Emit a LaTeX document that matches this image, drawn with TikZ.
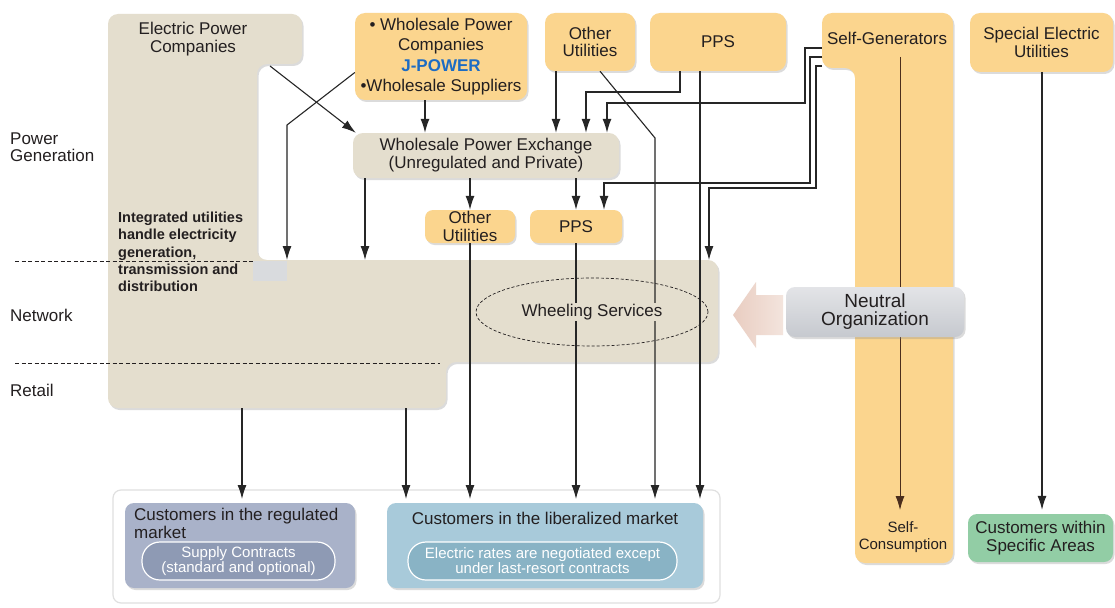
\documentclass[tikz,border=0pt]{standalone}
\usepackage{fontspec}
\setmainfont{Liberation Sans}
\usetikzlibrary{arrows.meta,shapes.geometric,shadows}
\definecolor{beige}{HTML}{E4DECE}
\definecolor{orng}{HTML}{FBD58E}
\definecolor{jblue}{HTML}{1C6CC4}
\definecolor{ink}{HTML}{231F20}
\definecolor{lnk}{HTML}{262626}
\definecolor{neutA}{HTML}{E3E4E7}
\definecolor{neutB}{HTML}{C6C9CF}
\definecolor{pinkA}{HTML}{E9CDC1}
\definecolor{pinkB}{HTML}{F3E4DD}
\definecolor{regc}{HTML}{A9B2C9}
\definecolor{regp}{HTML}{8E9AB4}
\definecolor{libc}{HTML}{A8CADA}
\definecolor{libp}{HTML}{89B3C5}
\definecolor{grn}{HTML}{92CDA5}
\definecolor{brn}{HTML}{4B2E1C}
\definecolor{patch}{HTML}{D9DBDE}
\begin{document}
\begin{tikzpicture}[x=1pt,y=-1pt,
  shd/.style={drop shadow={shadow xshift=1.5pt,shadow yshift=-2pt,opacity=0.28}},
  txt/.style={text=ink,align=center,font=\fontsize{17}{17.5}\selectfont,inner sep=0pt},
  obox/.style={txt,fill=orng,rounded corners=10pt,shd},
  bbox/.style={txt,fill=beige,rounded corners=10pt,shd},
  lbl/.style={txt,align=left,anchor=west},
  pill/.style={draw=white,line width=1.2pt,rounded corners=18pt,text=white,align=center,font=\fontsize{15}{15}\selectfont,inner sep=0pt},
  arr/.style={draw=lnk,line width=1.1pt,-{Latex[length=14pt,width=9pt]}},
  dline/.style={draw=ink,line width=0.7pt,dash pattern=on 4pt off 2.5pt}
]
\useasboundingbox (0,0) rectangle (1115,607);
\fill[white] (0,0) rectangle (1115,607);

% helper coordinates
\foreach \v in {242,287,365,406,425,470,556,576,586,600,604,607,655,680,700,709,900,1042}
  \coordinate (v\v) at (\v,0);
\coordinate (epcA) at (270,66);
\coordinate (netTop) at (0,260);
\coordinate (retBot) at (0,408);
\coordinate (custIn) at (0,499);
\coordinate (sgA) at (822,48);
\coordinate (sgB) at (822,57);
\coordinate (sgC) at (822,66);
\coordinate (sgIn) at (900,57);
\coordinate (sgOut) at (900,510);

% Electric power companies / integrated utility shape
\fill[beige,rounded corners=10pt,shd] (108,14) -- (302,14) -- (302,64) -- (257,64) -- (257,260)
  -- (718,260) -- (718,362) -- (446,362) -- (446,408) -- (108,408) -- cycle;
\fill[patch] (253,261) rectangle (287,281);

% Self-generators column
\fill[orng,rounded corners=10pt,shd] (822,13) -- (953,13) -- (953,563) -- (855,563) -- (855,68) -- (822,68) -- cycle;
\draw[arr,draw=brn,line width=0.9pt] (sgIn) -- (sgOut);

% dashed layer separators
\draw[dline] (15,261) -- (253,261);
\draw[dline] (15,363) -- (440,363);

% layer labels
\node[lbl] (lpg) at (10,147) {Power\\Generation};
\node[lbl] (lnet) at (10,315) {Network};
\node[lbl] (lret) at (10,390) {Retail};

% texts inside shapes
\node[txt] (epc) at (193,39) {Electric Power\\Companies};
\node[txt,anchor=west,align=left,font=\bfseries\fontsize{14.5}{17.3}\selectfont] (integ) at (118,252)
  {Integrated utilities\\handle electricity\\generation,\\transmission and\\distribution};
\node[txt] (sg) at (887,38) {Self-Generators};
\node[txt,font=\fontsize{15}{16.5}\selectfont] (scons) at (903,537) {Self-\\Consumption};

% boxes
\node[obox,minimum width=172pt,minimum height=87pt,font=\fontsize{17}{20.5}\selectfont] (wpc) at (441,56.5)
  {• Wholesale Power\\Companies\\{\bfseries\color{jblue}J-POWER}\\•Wholesale Suppliers};
\node[obox,minimum width=90pt,minimum height=58pt] (outop) at (590,42) {Other\\Utilities};
\node[obox,minimum width=136pt,minimum height=58pt] (ppstop) at (718,42) {PPS};
\node[obox,minimum width=143pt,minimum height=59pt] (seu) at (1041.5,42.5) {Special Electric\\Utilities};
\node[bbox,minimum width=266pt,minimum height=45pt,font=\fontsize{17}{18}\selectfont] (exch) at (486,155.5)
  {Wholesale Power Exchange\\(Unregulated and Private)};
\node[obox,rounded corners=8pt,minimum width=90pt,minimum height=33pt,font=\fontsize{17}{18}\selectfont] (oumid) at (470,226.5) {Other\\Utilities};
\node[obox,rounded corners=8pt,minimum width=92pt,minimum height=33pt] (ppsmid) at (576,226.5) {PPS};

% wheeling services
\node[draw=ink,line width=0.7pt,dash pattern=on 3pt off 2pt,ellipse,minimum width=232pt,minimum height=68pt] (wheel) at (592,312) {};

% bottom customers frame
\node[draw=black!12,line width=1.2pt,fill=white,rounded corners=8pt,minimum width=607pt,minimum height=113pt] (frame) at (416.5,546.5) {};
\node[fill=regc,rounded corners=9pt,minimum width=230pt,minimum height=85pt,shd] (reg) at (240,545.5) {};
\node[lbl] (regt) at (134,523.5) {Customers in the regulated\\market};
\node[pill,fill=regp,minimum width=193pt,minimum height=38pt] (regpill) at (238.5,561) {Supply Contracts\\(standard and optional)};
\node[fill=libc,rounded corners=9pt,minimum width=316pt,minimum height=85pt,shd] (lib) at (545,545.5) {};
\node[txt] (libt) at (545,518) {Customers in the liberalized market};
\node[pill,fill=libp,minimum width=269pt,minimum height=38pt] (libpill) at (542.5,561) {Electric rates are negotiated except\\under last-resort contracts};
\node[txt,fill=grn,rounded corners=9pt,minimum width=145pt,minimum height=48pt,font=\fontsize{17}{18}\selectfont,shd] (green) at (1040.5,538) {Customers within\\Specific Areas};

% connectors
\draw[arr] (epcA) -- ([xshift=3pt]exch.north west);
\draw[arr] ([yshift=-16pt]wpc.west) -- (287,125) -- (netTop -| v287);
\draw[arr] (wpc.south -| v425) -- (exch.north -| v425);
\draw[arr] (exch.south -| v365) -- (netTop -| v365);
\draw[arr] (exch.south -| v470) -- (oumid.north -| v470);
\draw[arr] (exch.south -| v576) -- (ppsmid.north -| v576);
\draw[arr] (outop.south -| v556) -- (exch.north -| v556);
\draw[arr] (ppstop.south -| v680) -- (680,92) -| (exch.north -| v586);
\draw[arr] (sgA) -- (805,48) -- (805,103) -| (exch.north -| v607);
\draw[arr] (sgB) -- (810,57) -- (810,183) -| (ppsmid.north -| v604);
\draw[arr] (sgC) -- (816,66) -- (816,188) -| (netTop -| v709);
\draw[arr] (outop.south -| v600) -- (655,138) -- (custIn -| v655);
\draw[arr] (ppstop.south -| v700) -- (custIn -| v700);
\draw[arr] (oumid.south -| v470) -- (custIn -| v470);
\draw[arr] (ppsmid.south -| v576) -- (custIn -| v576);
\draw[arr] (retBot -| v242) -- (custIn -| v242);
\draw[arr] (retBot -| v406) -- (custIn -| v406);
\draw[arr,shorten >=4pt] (seu.south -| v1042) -- (green.north -| v1042);

% wheeling services label (covers crossing lines)
\node[txt,fill=beige,inner sep=1.5pt] (wtxt) at (592,312) {Wheeling Services};

% neutral organization and its arrow
\shade[left color=pinkA,right color=pinkB] (733,315) -- (756,282) -- (756,295) -- (783,295) -- (783,335) -- (756,335) -- (756,348) -- cycle;
\node[txt,top color=neutA,bottom color=neutB,rounded corners=9pt,minimum width=178pt,minimum height=50pt,font=\fontsize{19}{18}\selectfont,shd] (neutral) at (875,312) {Neutral\\Organization};
\end{tikzpicture}
\end{document}
